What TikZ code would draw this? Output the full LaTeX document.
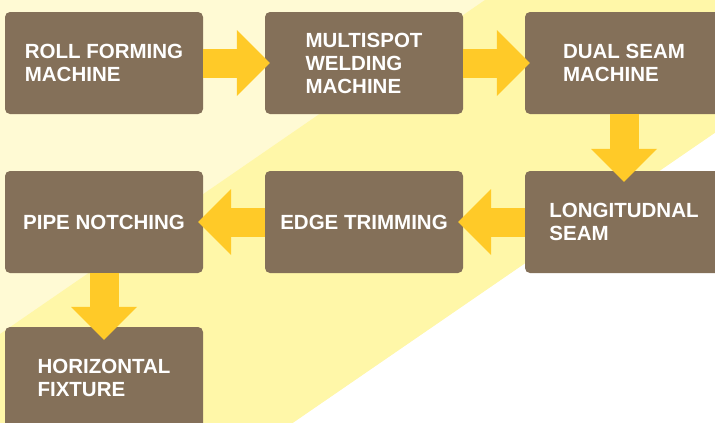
\documentclass[tikz,border=0pt]{standalone}
\usepackage{fontspec}
\setmainfont{Liberation Sans}
\usetikzlibrary{arrows.meta}

\definecolor{paleyellow}{HTML}{FFFAD4}
\definecolor{bandyellow}{HTML}{FFF7A8}
\definecolor{boxbrown}{HTML}{847059}
\definecolor{arrowgold}{HTML}{FFCA28}

\tikzset{
  stage/.style={fill=boxbrown, rounded corners=5pt, minimum width=198pt, minimum height=102pt,
    inner sep=0pt, align=left, text=white, font=\fontsize{20.5}{23}\selectfont\bfseries},
  flow/.style={draw=arrowgold, line width=29pt,
    -{Triangle[length=33pt, width=66pt, line width=0pt, fill=arrowgold]}}
}

\begin{document}
\begin{tikzpicture}[x=1pt, y=-1pt]
        \clip (0,0) rectangle (715,423);

        % background bands
        \fill[paleyellow] (0,0) rectangle (715,423);
        \fill[bandyellow] (0,334) -- (485,0) -- (715,0) -- (715,133) -- (293,423) -- (0,423) -- cycle;
        \fill[white] (715,133) -- (715,423) -- (293,423) -- cycle;

        % stages
        \node[stage] (roll) at (104,63) {ROLL FORMING\\MACHINE};
        \node[stage] (weld) at (364,63) {MULTISPOT\\WELDING\\MACHINE};
        \node[stage] (dual) at (624,63) {DUAL SEAM\\MACHINE};
        \node[stage] (seam) at (624,222) {LONGITUDNAL\\SEAM};
        \node[stage] (edge) at (364,222) {EDGE TRIMMING};
        \node[stage] (pipe) at (104,222) {PIPE NOTCHING};
        \node[stage] (fixt) at (104,378) {HORIZONTAL\\FIXTURE};

        % flow arrows
        \draw[flow, shorten >=-5pt] (roll) -- (weld);
        \draw[flow, shorten >=-5pt] (weld) -- (dual);
        \draw[flow, shorten >=-11pt] (dual) -- (seam);
        \draw[flow, shorten >=-5pt] (seam) -- (edge);
        \draw[flow, shorten >=-5pt] (edge) -- (pipe);
        \draw[flow, shorten >=-13pt] (pipe) -- (fixt);
\end{tikzpicture}
\end{document}
